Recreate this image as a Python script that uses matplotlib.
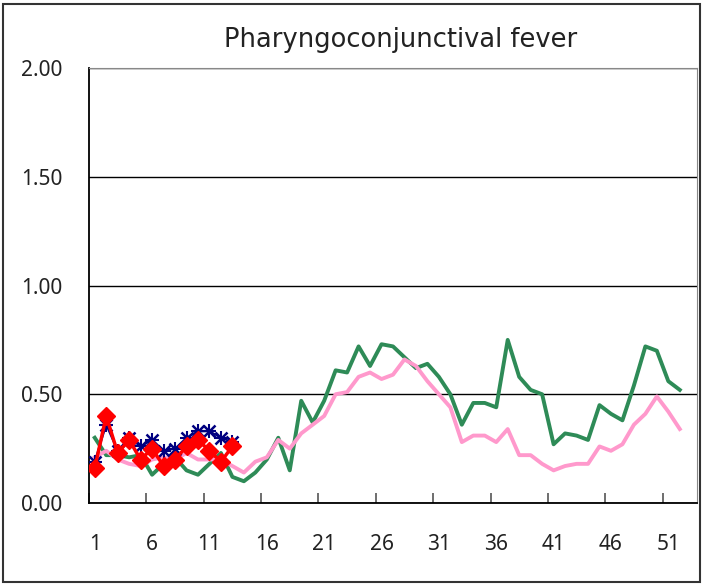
import numpy as np
import matplotlib
matplotlib.use("Agg")
import matplotlib.pyplot as plt
from matplotlib.patches import Rectangle

weeks = np.arange(1, 53)

green = [0.30, 0.22, 0.22, 0.21, 0.22, 0.13, 0.18, 0.21, 0.15, 0.13,
         0.18, 0.23, 0.12, 0.10, 0.14, 0.20, 0.30, 0.15, 0.47, 0.37,
         0.47, 0.61, 0.60, 0.72, 0.63, 0.73, 0.72, 0.67, 0.62, 0.64,
         0.58, 0.50, 0.36, 0.46, 0.46, 0.44, 0.75, 0.58, 0.52, 0.50,
         0.27, 0.32, 0.31, 0.29, 0.45, 0.41, 0.38, 0.54, 0.72, 0.70,
         0.56, 0.52]

pink = [0.21, 0.24, 0.20, 0.18, 0.17, 0.20, 0.21, 0.20, 0.23, 0.20,
        0.20, 0.20, 0.17, 0.14, 0.19, 0.21, 0.29, 0.25, 0.32, 0.36,
        0.40, 0.50, 0.51, 0.58, 0.60, 0.57, 0.59, 0.66, 0.63, 0.56,
        0.50, 0.44, 0.28, 0.31, 0.31, 0.28, 0.34, 0.22, 0.22, 0.18,
        0.15, 0.17, 0.18, 0.18, 0.26, 0.24, 0.27, 0.36, 0.41, 0.49,
        0.42, 0.34]

blue = [0.19, 0.36, 0.24, 0.30, 0.26, 0.29, 0.24, 0.25, 0.30, 0.33,
        0.33, 0.30, 0.28]

red = [0.16, 0.40, 0.23, 0.29, 0.20, 0.25, 0.17, 0.20, 0.26, 0.29,
       0.24, 0.19, 0.26]

x_labels = [1, 6, 11, 16, 21, 26, 31, 36, 41, 46, 51]
y_ticks = [0.0, 0.5, 1.0, 1.5, 2.0]

plt.rcParams['font.family'] = ['Noto Sans', 'DejaVu Sans']

fig = plt.figure(figsize=(7.02, 5.84), dpi=100)
ax = fig.add_axes([89 / 702, 1 - 503 / 584, 608 / 702, 435 / 584])

ax.plot(weeks, green, color="#2E8B57", lw=2.8, zorder=3)
ax.plot(weeks, pink, color="#FF99CC", lw=2.8, zorder=4)
ax.plot(weeks[:len(blue)], blue, color="#000080", lw=1.5, marker="x",
        ms=8, mew=1.8, zorder=5)
ax.plot(weeks[:len(blue)], blue, color="#000080", lw=0, marker="+",
        ms=9.5, mew=1.5, zorder=5)
ax.plot(weeks[:len(red)], red, color="#FF0000", lw=2.5, marker="D",
        ms=9.5, zorder=6)

ax.set_xlim(0.5, 53.5)
ax.set_ylim(0, 2.0)
ax.set_yticks(y_ticks)
ax.set_yticklabels(["%.2f" % v for v in y_ticks], fontsize=15, color="#222222")
ax.yaxis.grid(True, color="black", lw=1.0)
ax.set_axisbelow(True)
ax.tick_params(axis="y", length=0, pad=19)

ax.set_xticks(np.arange(0.5, 54, 5), minor=False)
ax.set_xticklabels([])
ax.set_xticks(x_labels, minor=True)
ax.set_xticklabels([str(v) for v in x_labels], minor=True, fontsize=15,
                   color="#222222")
ax.tick_params(axis="x", which="major", direction="in", length=7,
               color="#555555", width=1.2)
ax.tick_params(axis="x", which="minor", length=0, pad=22)

ax.spines["left"].set_color("black")
ax.spines["bottom"].set_color("black")
ax.spines["left"].set_linewidth(1.3)
ax.spines["bottom"].set_linewidth(1.3)
ax.spines["top"].set_color("#888888")
ax.spines["right"].set_color("#888888")

fig.text(401 / 702, 1 - 40 / 584, "Pharyngoconjunctival fever",
         ha="center", va="center", fontsize=18.5, color="#222222",
         family=["DejaVu Sans"])

fig.patches.append(Rectangle((3 / 702, 2 / 584), 697 / 702, 578 / 584,
                             transform=fig.transFigure, fill=False,
                             edgecolor="#333333", lw=1.5))

fig.savefig("out.png", dpi=100)
